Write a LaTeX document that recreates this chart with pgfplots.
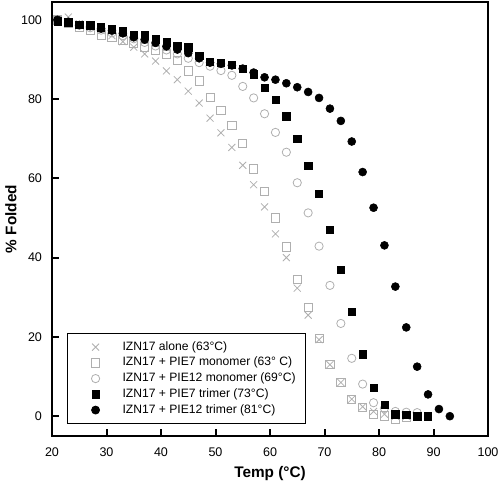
\documentclass[border=0pt]{standalone}
\usepackage{fontspec}
\setmainfont{Liberation Sans}
\usepackage{pgfplots}
\pgfplotsset{compat=1.18}
\definecolor{mk}{RGB}{175,175,175}
\pgfplotsset{mylegimg/.style={legend image code/.code={\path[draw=none,fill=none] (0cm,0cm) -- (1.2cm,0cm); \draw[mark repeat=2,mark phase=2,##1] plot coordinates {(0cm,0cm) (0.56cm,0cm) (1.12cm,0cm)};}}}
\begin{document}
\begin{tikzpicture}
\begin{axis}[
  width=327pt, height=325.5pt, scale only axis,
  xmin=20, xmax=100, ymin=-5, ymax=104.5,
  xtick={20,30,...,100}, ytick={0,20,...,100},
  tick align=inside, major tick length=5pt,
  xtick pos=bottom, ytick pos=left,
  axis line style={line width=1.5pt}, 
  every tick/.style={black, line width=1.5pt},
  /pgf/number format/assume math mode=true,
  tick label style={font=\fontsize{9.4}{11}\selectfont},
  xticklabel style={yshift=-5pt},
  yticklabel style={xshift=-4pt},
  xlabel={\textbf{Temp (°C)}}, ylabel={\textbf{\% Folded}},
  label style={font=\fontsize{11.5}{13}\selectfont},
  x label style={at={(axis description cs:0.5,-0.086)}, anchor=center},
  y label style={at={(axis description cs:-0.094,0.5)}, anchor=center, rotate=0},
  legend style={at={(axis cs:22.8,-2)}, anchor=south west, draw=black, line width=0.6pt,
    font=\fontsize{9.1}{11}\selectfont, inner xsep=5pt, inner ysep=5pt, row sep=1.3pt,
    nodes={inner ysep=0pt, text height=7.5pt, text depth=3pt}},
  legend cell align=left,
]
\addplot[only marks, mylegimg, mark=x, mark size=3.7pt, draw=mk, line width=0.6pt] coordinates {
(21,100) (23,100.7) (25,99.0) (27,98.2) (29,97.3) (31,96.0) (33,94.5) (35,93.1) (37,91.4) (39,89.6)
(41,87.1) (43,84.9) (45,82.0) (47,79.0) (49,75.2) (51,71.5) (53,67.8) (55,63.3) (57,58.4) (59,52.8)
(61,46.0) (63,40.0) (65,32.3) (67,25.5) (69,19.3) (71,13.0) (73,8.5) (75,4.3) (77,2.4) (79,1.2)
(81,0.5) (83,0) (85,0)};
\addlegendentry{IZN17 alone (63°C)}
\addplot[only marks, mylegimg, mark=square, mark size=3.1pt, draw=mk, line width=0.6pt] coordinates {
(21,100) (23,99.2) (25,98.2) (27,97.3) (29,96.2) (31,95.5) (33,94.8) (35,94.0) (37,93.0) (39,92.2)
(41,91.2) (43,89.7) (45,87.1) (47,84.6) (49,80.4) (51,77.1) (53,73.3) (55,68.8) (57,62.4) (59,56.7)
(61,50.0) (63,42.7) (65,34.5) (67,27.5) (69,19.6) (71,13.1) (73,8.6) (75,4.3) (77,2.2) (79,0.5)
(81,0.1) (83,-0.8) (85,-0.3)};
\addlegendentry{IZN17 + PIE7 monomer (63° C)}
\addplot[only marks, mylegimg, mark=o, mark size=3.1pt, draw=mk, line width=0.6pt] coordinates {
(21,100) (23,99.2) (25,98.6) (27,98.0) (29,97.4) (31,96.7) (33,96.0) (35,95.2) (37,94.3) (39,93.4)
(41,92.4) (43,91.4) (45,90.3) (47,89.2) (49,88.3) (51,87.2) (53,86.0) (55,83.2) (57,80.3) (59,76.3)
(61,71.6) (63,66.6) (65,58.9) (67,51.3) (69,42.9) (71,33.0) (73,23.4) (75,14.6) (77,8.1) (79,3.4)
(81,2.0) (83,1.2) (85,1.0) (87,0.9)};
\addlegendentry{IZN17 + PIE12 monomer (69°C)}
\addplot[only marks, mylegimg, mark=square*, mark size=2.75pt, black] coordinates {
(21,99.6) (23,99.4) (25,98.7) (27,98.6) (29,98.1) (31,97.6) (33,97.1) (35,96.2) (37,96.1) (39,95.1)
(41,94.3) (43,93.5) (45,93.1) (47,91.0) (49,89.5) (51,89.2) (53,88.7) (55,87.7) (57,86.3) (59,82.9)
(61,79.8) (63,75.7) (65,70.0) (67,63.2) (69,56.2) (71,47.0) (73,36.9) (75,26.4) (77,15.6) (79,7.2)
(81,2.8) (83,0.5) (85,0.4) (87,0) (89,0)};
\addlegendentry{IZN17 + PIE7 trimer (73°C)}
\addplot[only marks, mylegimg, mark=*, mark size=3pt, black] coordinates {
(21,100) (23,99.5) (25,98.7) (27,98.4) (29,97.8) (31,97.3) (33,96.6) (35,95.6) (37,95.0) (39,94.2)
(41,93.3) (43,92.5) (45,91.6) (47,90.3) (49,89.2) (51,88.9) (53,88.5) (55,87.7) (57,86.7) (59,85.5)
(61,84.9) (63,84.0) (65,83.0) (67,81.8) (69,80.3) (71,77.6) (73,74.5) (75,69.3) (77,61.6) (79,52.6)
(81,43.1) (83,32.7) (85,22.4) (87,12.5) (89,5.5) (91,1.8) (93,0)};
\addlegendentry{IZN17 + PIE12 trimer (81°C)}
\coordinate (sw) at (rel axis cs:0,0);
\coordinate (ne) at (rel axis cs:1,1);
\end{axis}
\pgfresetboundingbox
\path[use as bounding box] ([xshift=-39pt,yshift=-37.5pt]sw) rectangle ([xshift=9pt,yshift=1.5pt]ne);
\end{tikzpicture}
\end{document}
